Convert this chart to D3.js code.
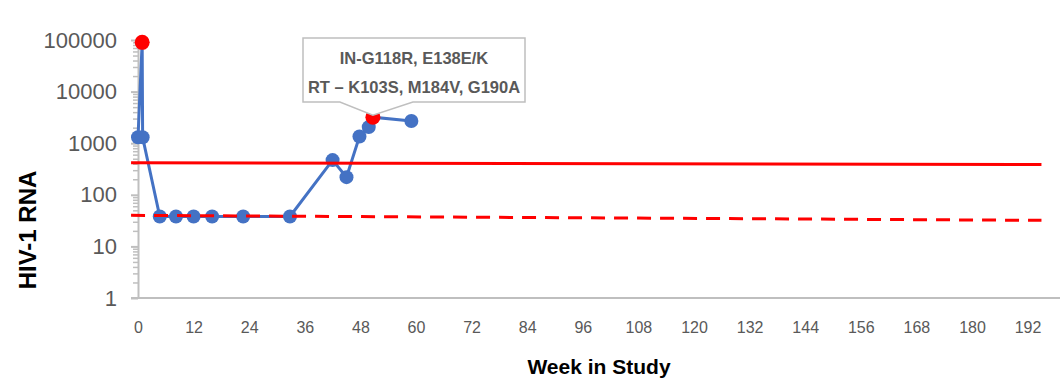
<!DOCTYPE html>
<html>
<head>
<meta charset="utf-8">
<script src="https://cdn.jsdelivr.net/npm/d3@7"></script>
<style>
  body { margin: 0; background: #fff; }
  text { font-family: "Liberation Sans", Arial, sans-serif; }
</style>
</head>
<body>
<div id="graf"></div>
<script>
// data
weeks = [0, 0.9, 1, 4.7, 8.2, 12, 16, 22.7, 32.8, 42, 45, 47.8, 49.8, 50.7, 59]
rna   = [1300, 90000, 1300, 38, 38, 38, 38, 38, 38, 470, 220, 1350, 2050, 3200, 2700]
redPoints = [1, 13]          // indexes drawn in red

limitWeeks = [-1.5, 195]
upperLimit = [420, 385]
lowerLimit = [40, 32]

yTicks = [1, 10, 100, 1000, 10000, 100000]
xTicks = d3.range(0, 193, 12)
callout = ['IN-G118R, E138E/K', 'RT \u2013 K103S, M184V, G190A']

// size
ancho_total = 1064
alto_total = 380

svg = d3.select('#graf').append('svg')
        .attr('width', ancho_total)
        .attr('height', alto_total)

x = d3.scaleLinear().domain([0, 199]).range([138, 1060])
y = d3.scaleLog().domain([1, 100000]).range([298, 40])

gris = '#bfbfbf'
textoGris = '#595959'

// minor ticks of the log axis
minor = []
yTicks.slice(0, -1).forEach(t => {
  for (k = 2; k < 10; k++) minor.push(t * k)
})

minorAxis = svg.append('g')
  .attr('transform', `translate(${x(0)}, 0)`)
  .call(d3.axisLeft(y).tickValues(minor).tickSize(5).tickFormat(''))
minorAxis.select('.domain').remove()
minorAxis.selectAll('line').attr('stroke', gris).attr('stroke-width', 1.5)

yAxis = svg.append('g')
  .attr('transform', `translate(${x(0)}, 0)`)
  .call(d3.axisLeft(y).tickValues(yTicks).tickSize(7).tickSizeOuter(0)
        .tickPadding(14).tickFormat(d => d))
yAxis.select('.domain').attr('stroke', gris).attr('stroke-width', 2)
yAxis.selectAll('line').attr('stroke', gris).attr('stroke-width', 2)
yAxis.selectAll('text')
  .style('font-size', '22px')
  .attr('fill', textoGris)

// x axis: labels only, line drawn by hand
xAxis = svg.append('g')
  .attr('transform', `translate(0, ${y(1)})`)
  .call(d3.axisBottom(x).tickValues(xTicks).tickSize(0).tickPadding(24))
xAxis.select('.domain').remove()
xAxis.selectAll('text')
  .style('font-size', '16px')
  .attr('fill', textoGris)

svg.append('line')
  .attr('x1', x(0) - 7).attr('x2', x(199))
  .attr('y1', y(1)).attr('y2', y(1))
  .attr('stroke', gris).attr('stroke-width', 2)

// titles
svg.append('text')
  .attr('transform', `translate(36, 230) rotate(-90)`)
  .attr('text-anchor', 'middle')
  .style('font-size', '24px')
  .style('font-weight', 'bold')
  .text('HIV-1 RNA')

svg.append('text')
  .attr('x', (x(0) + x(199)) / 2)
  .attr('y', 374)
  .attr('text-anchor', 'middle')
  .style('font-size', '21px')
  .style('font-weight', 'bold')
  .text('Week in Study')

// patient series
serie = weeks.map((w, i) => ({ w: w, v: rna[i], rojo: redPoints.includes(i) }))

linea = d3.line().x(d => x(d.w)).y(d => y(d.v))

svg.append('path')
  .datum(serie)
  .attr('d', linea)
  .attr('fill', 'none')
  .attr('stroke', '#4472c4')
  .attr('stroke-width', 3)

svg.selectAll('.punto')
  .data(serie.filter(d => !d.rojo))
  .enter().append('circle')
    .attr('class', 'punto')
    .attr('cx', d => x(d.w))
    .attr('cy', d => y(d.v))
    .attr('r', 7)
    .attr('fill', '#4472c4')

// limit lines
lim = limitWeeks.map((w, i) => ({ w: w, alto: upperLimit[i], bajo: lowerLimit[i] }))

svg.append('path')
  .datum(lim)
  .attr('d', d3.line().x(d => x(d.w)).y(d => y(d.alto)))
  .attr('stroke', '#ff0000')
  .attr('stroke-width', 3)
  .attr('fill', 'none')

svg.append('path')
  .datum(lim)
  .attr('d', d3.line().x(d => x(d.w)).y(d => y(d.bajo)))
  .attr('stroke', '#ff0000')
  .attr('stroke-width', 3)
  .attr('stroke-dasharray', '14,9')
  .attr('fill', 'none')

svg.selectAll('.rojo')
  .data(serie.filter(d => d.rojo))
  .enter().append('circle')
    .attr('class', 'rojo')
    .attr('cx', d => x(d.w))
    .attr('cy', d => y(d.v))
    .attr('r', 7.5)
    .attr('fill', '#ff0000')

// callout for the resistance point
p = serie[redPoints[1]]
px = x(p.w), py = y(p.v)
bx0 = 303, bx1 = 525, by0 = 38, by1 = 102
caja = `M${bx0},${by0} H${bx1} V${by1} H${px + 40} L${px},${py - 2} L${px - 33},${by1} H${bx0} Z`
svg.append('path')
  .attr('d', caja)
  .attr('fill', '#fff')
  .attr('stroke', gris)
  .attr('stroke-width', 1.5)

svg.selectAll('.nota')
  .data(callout)
  .enter().append('text')
    .attr('class', 'nota')
    .attr('x', (bx0 + bx1) / 2)
    .attr('y', (d, i) => 64 + i * 29)
    .attr('text-anchor', 'middle')
    .style('font-size', '16.5px')
    .style('font-weight', 'bold')
    .attr('fill', textoGris)
    .text(d => d)
</script>
</body>
</html>
